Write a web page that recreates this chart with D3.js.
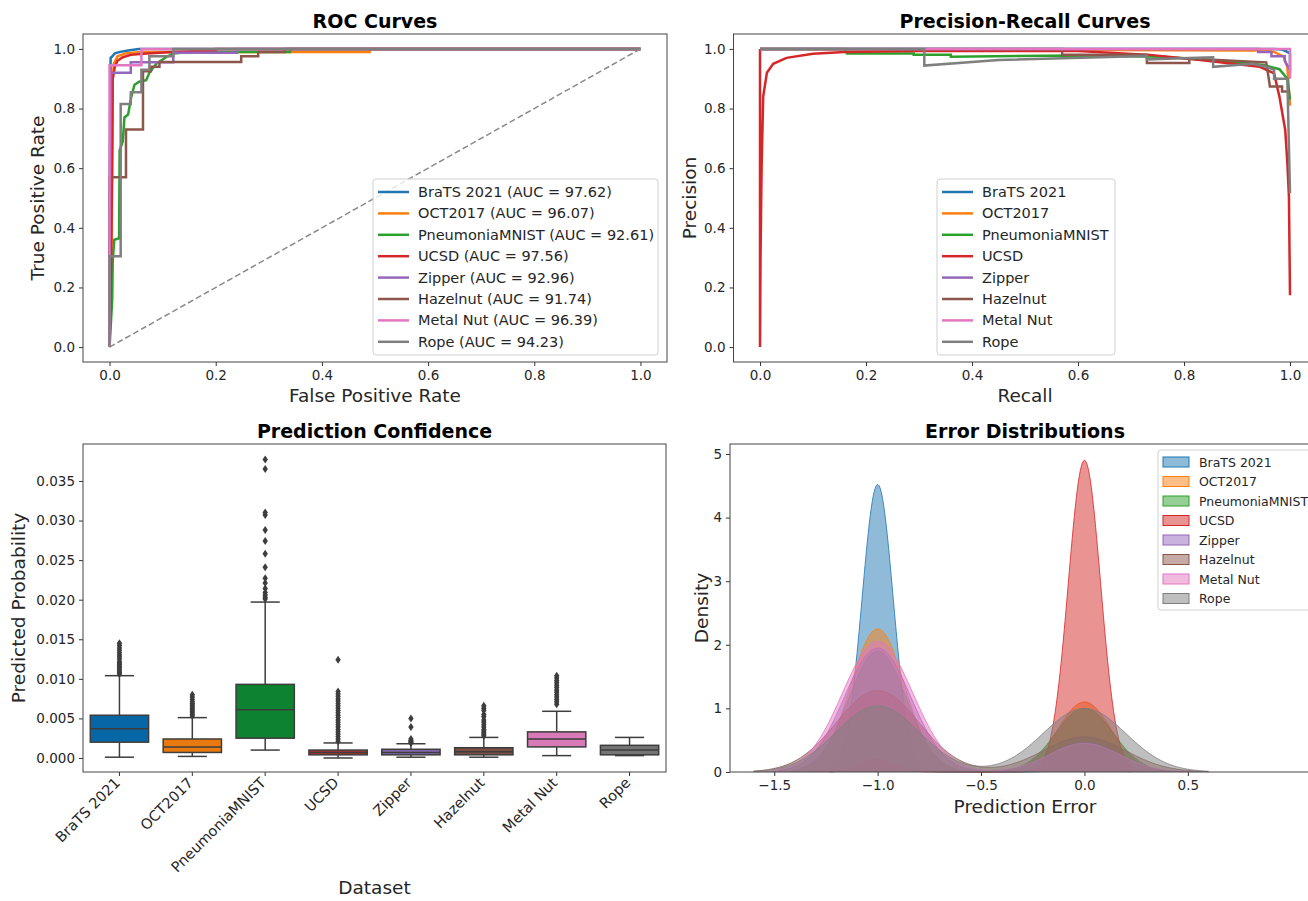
<!DOCTYPE html>
<html>
<head>
<meta charset="utf-8">
<script src="https://cdn.jsdelivr.net/npm/d3@7"></script>
<style>
body { margin: 0; background: #fff; }
text { font-family: "DejaVu Sans", sans-serif; fill: #262626; }
</style>
</head>
<body>
<div id="chart"></div>
<script>
// datasets and scores
const datasets = ['BraTS 2021', 'OCT2017', 'PneumoniaMNIST', 'UCSD', 'Zipper', 'Hazelnut', 'Metal Nut', 'Rope']
const aucValues = [97.62, 96.07, 92.61, 97.56, 92.96, 91.74, 96.39, 94.23]

// ROC points [fpr, tpr]
const rocBrats = [[0, 0], [0, 0.5], [0.002, 0.97], [0.005, 0.975], [0.01, 0.985], [0.02, 0.99], [0.035, 0.995], [0.055, 1], [1, 1]]
const rocOct = [[0, 0], [0.004, 0.37], [0.005, 0.6], [0.006, 0.9], [0.008, 0.95], [0.015, 0.975], [0.03, 0.985], [0.06, 0.99], [0.49, 0.99], [0.49, 1], [1, 1]]
const rocPneumonia = [[0, 0], [0.005, 0.16], [0.006, 0.29], [0.009, 0.36], [0.018, 0.365], [0.019, 0.66], [0.025, 0.69], [0.028, 0.77], [0.035, 0.78], [0.041, 0.84], [0.047, 0.88], [0.056, 0.89], [0.069, 0.895], [0.075, 0.92], [0.088, 0.95], [0.107, 0.973], [0.12, 0.985], [0.15, 0.99], [0.34, 0.99], [0.34, 1], [1, 1]]
const rocUcsd = [[0, 0], [0.003, 0.3], [0.005, 0.64], [0.006, 0.9], [0.01, 0.94], [0.015, 0.96], [0.025, 0.972], [0.04, 0.98], [0.07, 0.985], [0.12, 0.99], [0.2, 0.995], [0.2, 1], [1, 1]]
const rocZipper = [[0, 0], [0, 0.35], [0.003, 0.92], [0.04, 0.92], [0.04, 0.955], [0.12, 0.955], [0.12, 0.987], [0.24, 0.987], [0.24, 1], [1, 1]]
const rocHazelnut = [[0, 0], [0, 0.57], [0.031, 0.57], [0.031, 0.73], [0.063, 0.73], [0.063, 0.925], [0.078, 0.925], [0.078, 0.94], [0.094, 0.94], [0.094, 0.956], [0.248, 0.956], [0.248, 0.975], [0.28, 0.975], [0.28, 0.99], [0.33, 0.99], [0.33, 1], [1, 1]]
const rocMetalNut = [[0, 0], [0, 0.945], [0.06, 0.945], [0.06, 1], [1, 1]]
const rocRope = [[0, 0], [0, 0.305], [0.021, 0.305], [0.021, 0.815], [0.04, 0.815], [0.04, 0.855], [0.06, 0.855], [0.06, 0.93], [0.075, 0.93], [0.075, 0.975], [0.12, 0.975], [0.12, 1], [1, 1]]
const rocCurves = [rocBrats, rocOct, rocPneumonia, rocUcsd, rocZipper, rocHazelnut, rocMetalNut, rocRope]

// precision-recall points [recall, precision]
const prBrats = [[0, 1], [0.97, 1], [0.985, 0.998], [0.995, 0.99], [1, 0.985], [1, 0.92]]
const prOct = [[0, 1], [0.3, 0.998], [0.95, 0.995], [0.97, 0.99], [0.988, 0.974], [0.995, 0.94], [1, 0.81]]
const prPneumonia = [[0, 1], [0.16, 1], [0.164, 0.985], [0.29, 0.985], [0.29, 0.98], [0.36, 0.98], [0.36, 0.974], [0.6, 0.978], [0.76, 0.974], [0.893, 0.957], [0.95, 0.946], [0.98, 0.932], [0.995, 0.9], [1, 0.83]]
const prUcsd = [[0, 1], [0, 0], [0.001, 0.3], [0.003, 0.6], [0.006, 0.84], [0.013, 0.92], [0.025, 0.95], [0.05, 0.97], [0.1, 0.984], [0.16, 0.99], [0.3, 0.993], [0.6, 0.993], [0.736, 0.98], [0.83, 0.963], [0.943, 0.94], [0.97, 0.918], [0.98, 0.84], [0.991, 0.728], [0.995, 0.617], [0.998, 0.504], [1, 0.174]]
const prZipper = [[0, 1], [0.94, 1], [0.94, 0.99], [0.965, 0.99], [0.965, 0.975], [0.99, 0.975], [0.99, 0.96], [1, 0.93]]
const prHazelnut = [[0, 1], [0.57, 1], [0.57, 0.98], [0.73, 0.98], [0.73, 0.953], [0.81, 0.953], [0.81, 0.968], [0.955, 0.955], [0.96, 0.9], [0.962, 0.874], [0.985, 0.874], [0.985, 0.857], [1, 0.857]]
const prMetalNut = [[0, 1], [1, 1], [1, 0.9]]
const prRope = [[0, 1], [0.31, 1], [0.31, 0.944], [0.45, 0.963], [0.73, 0.976], [0.73, 0.965], [0.855, 0.972], [0.855, 0.94], [0.93, 0.95], [0.955, 0.94], [0.97, 0.93], [0.97, 0.9], [0.995, 0.9], [1, 0.516]]
const prCurves = [prBrats, prOct, prPneumonia, prUcsd, prZipper, prHazelnut, prMetalNut, prRope]

// box plot stats
const boxQ1 = [0.0020, 0.0007, 0.0025, 0.0004, 0.0004, 0.0004, 0.0014, 0.0004]
const boxMedian = [0.0037, 0.0014, 0.0061, 0.0007, 0.0007, 0.0008, 0.0024, 0.0010]
const boxQ3 = [0.0054, 0.0024, 0.0093, 0.0010, 0.0011, 0.0013, 0.0033, 0.0016]
const whiskerLow = [0.0001, 0.0002, 0.0010, 0.0000, 0.0001, 0.0001, 0.0003, 0.0003]
const whiskerHigh = [0.0104, 0.0051, 0.0197, 0.0019, 0.0018, 0.0026, 0.0059, 0.0026]
const outBrats = [0.0106, 0.0108, 0.011, 0.0112, 0.0114, 0.0116, 0.0118, 0.012, 0.0122, 0.0125, 0.0128, 0.013, 0.0133, 0.0136, 0.0139, 0.0142, 0.0145]
const outOct = [0.0053, 0.0055, 0.0057, 0.0059, 0.0061, 0.0063, 0.0065, 0.0067, 0.0069, 0.0071, 0.0074, 0.0077, 0.008]
const outPneumonia = [0.0201, 0.0203, 0.0206, 0.0209, 0.0214, 0.0221, 0.0227, 0.0241, 0.0258, 0.0274, 0.0288, 0.0307, 0.031, 0.0365, 0.0377]
const outUcsd = [0.0021, 0.0024, 0.0027, 0.003, 0.0033, 0.0036, 0.0039, 0.0042, 0.0045, 0.0048, 0.0051, 0.0054, 0.0057, 0.006, 0.0063, 0.0066, 0.0069, 0.0072, 0.0075, 0.0078, 0.0081, 0.0084, 0.0124]
const outZipper = [0.0019, 0.002, 0.0021, 0.0022, 0.0024, 0.0039, 0.005]
const outHazelnut = [0.0028, 0.003, 0.0032, 0.0034, 0.0036, 0.0039, 0.0042, 0.0045, 0.0048, 0.0052, 0.0055, 0.006, 0.0063, 0.0066]
const outMetalNut = [0.0068, 0.0071, 0.0074, 0.0077, 0.008, 0.0083, 0.0086, 0.0089, 0.0092, 0.0095, 0.0098, 0.0101, 0.0104]
const outRope = []
const boxOutliers = [outBrats, outOct, outPneumonia, outUcsd, outZipper, outHazelnut, outMetalNut, outRope]

// error KDE: peak height at -1, peak height at 0, bandwidth
const kdePeakMinus1 = [4.52, 2.25, 1.9, 0.2, 1.95, 1.28, 2.05, 1.04]
const kdePeakZero = [0.3, 1.1, 1.0, 4.9, 0.48, 0.55, 0.45, 1.0]
const kdeBandwidth = [0.075, 0.13, 0.14, 0.078, 0.16, 0.2, 0.17, 0.2]

// tick labels
const unitTicks = [0, 0.2, 0.4, 0.6, 0.8, 1.0]
const probTicks = [0, 0.005, 0.01, 0.015, 0.02, 0.025, 0.03, 0.035]
const errorTicks = [-1.5, -1.0, -0.5, 0.0, 0.5]
const densityTicks = [0, 1, 2, 3, 4, 5]

const lineColors = ['#1f77b4', '#ff7f0e', '#2ca02c', '#d62728', '#9467bd', '#8c564b', '#e377c2', '#7f7f7f']
const boxColors = ['#0767a6', '#e8790f', '#0d8230', '#b33232', '#8667ad', '#7b4f44', '#d87ab7', '#757575']
const edgeColor = '#3d3d3d'

var width = 1308
var height = 901

var svg = d3.select('#chart')
	.append('svg')
	.attr('width', width)
	.attr('height', height)

// draw ticks, title and labels for one panel
function panel(x, y, opts) {
	var g = svg.append('g')
	var [x0, x1] = x.range()
	var [y0, y1] = y.range() // y0 bottom, y1 top

	var xAxis = (x.bandwidth ? d3.axisBottom(x) : d3.axisBottom(x).tickValues(opts.xTicks).tickFormat(opts.xFormat))
		.tickSize(4).tickPadding(4)
	var gx = g.append('g')
		.attr('transform', 'translate(0,' + y0 + ')')
		.call(xAxis)
	gx.select('.domain').remove()

	var gy = g.append('g')
		.attr('transform', 'translate(' + x0 + ',0)')
		.call(d3.axisLeft(y).tickValues(opts.yTicks).tickFormat(opts.yFormat).tickSize(4).tickPadding(4))
	gy.select('.domain').remove()

	g.selectAll('.tick line').attr('stroke', '#333')
	g.selectAll('.tick text')
		.style('font-size', '13.5px')
		.style('font-family', '"DejaVu Sans", sans-serif')
		.attr('fill', '#262626')

	if (opts.rotate) {
		gx.selectAll('.tick text')
			.style('font-size', '14.5px')
			.attr('text-anchor', 'end')
			.attr('dy', null)
			.attr('transform', 'translate(-4,6) rotate(-45)')
			.attr('y', 8)
	}

	// title
	g.append('text')
		.attr('class', 'title')
		.attr('x', (x0 + x1) / 2)
		.attr('y', y1 - 6)
		.attr('text-anchor', 'middle')
		.style('font-size', '19px')
		.style('font-weight', 'bold')
		.style('fill', '#000')
		.text(opts.title)

	// axis labels
	g.append('text')
		.attr('x', opts.xLabelX || (x0 + x1) / 2)
		.attr('y', opts.xLabelY)
		.attr('text-anchor', 'middle')
		.style('font-size', '18.5px')
		.text(opts.xLabel)
	g.append('text')
		.attr('transform', 'translate(' + opts.yLabelX + ',' + (y0 + y1) / 2 + ') rotate(-90)')
		.attr('text-anchor', 'middle')
		.style('font-size', '18.5px')
		.text(opts.yLabel)

	return g
}

function frame(g, x, y) {
	var [x0, x1] = x.range()
	var [y0, y1] = y.range()
	g.append('rect')
		.attr('x', x0).attr('y', y1)
		.attr('width', x1 - x0).attr('height', y0 - y1)
		.attr('fill', 'none')
		.attr('stroke', '#444')
		.attr('stroke-width', 1)
}

function lineLegend(g, x, y, w, h, labels) {
	var lg = g.append('g').attr('transform', 'translate(' + x + ',' + y + ')')
	lg.append('rect')
		.attr('width', w).attr('height', h)
		.attr('rx', 3)
		.attr('fill', '#fff').attr('fill-opacity', 0.8)
		.attr('stroke', '#d0d0d0')
	labels.forEach((label, i) => {
		var cy = 13 + i * 21.4
		lg.append('line')
			.attr('x1', 5).attr('x2', 36)
			.attr('y1', cy).attr('y2', cy)
			.attr('stroke', lineColors[i])
			.attr('stroke-width', 2.5)
		lg.append('text')
			.attr('x', 45).attr('y', cy + 5)
			.style('font-size', '14.5px')
			.text(label)
	})
}

// ---------- ROC ----------
var xRoc = d3.scaleLinear([-0.05, 1.05], [83, 667])
var yRoc = d3.scaleLinear([-0.05, 1.05], [362, 34])
var gRoc = panel(xRoc, yRoc, {
	title: 'ROC Curves', xLabel: 'False Positive Rate', yLabel: 'True Positive Rate',
	xTicks: unitTicks, yTicks: unitTicks, xFormat: d3.format('.1f'), yFormat: d3.format('.1f'),
	xLabelY: 402, yLabelX: 44
})
var rocLine = d3.line().x(d => xRoc(d[0])).y(d => yRoc(d[1]))
rocCurves.forEach((pts, i) => {
	gRoc.append('path')
		.attr('d', rocLine(pts))
		.attr('fill', 'none')
		.attr('stroke', lineColors[i])
		.attr('stroke-width', 2.5)
})
gRoc.append('path')
	.attr('d', rocLine([[0, 0], [1, 1]]))
	.attr('stroke', '#8a8a8a')
	.attr('stroke-width', 1.5)
	.attr('stroke-dasharray', '6,3')
	.attr('fill', 'none')
frame(gRoc, xRoc, yRoc)
lineLegend(gRoc, 373, 179, 285, 176, datasets.map((d, i) => d + ' (AUC = ' + aucValues[i].toFixed(2) + ')'))

// ---------- Precision-Recall ----------
var xPr = d3.scaleLinear([-0.05, 1.05], [733.5, 1316.5])
var yPr = d3.scaleLinear([-0.05, 1.05], [362, 34])
var gPr = panel(xPr, yPr, {
	title: 'Precision-Recall Curves', xLabel: 'Recall', yLabel: 'Precision',
	xTicks: unitTicks, yTicks: unitTicks, xFormat: d3.format('.1f'), yFormat: d3.format('.1f'),
	xLabelY: 402, yLabelX: 696
})
var prLine = d3.line().x(d => xPr(d[0])).y(d => yPr(d[1]))
prCurves.forEach((pts, i) => {
	gPr.append('path')
		.attr('d', prLine(pts))
		.attr('fill', 'none')
		.attr('stroke', lineColors[i])
		.attr('stroke-width', 2.5)
})
frame(gPr, xPr, yPr)
lineLegend(gPr, 937, 179, 178, 176, datasets)

// ---------- Box plot ----------
var xBox = d3.scaleBand(datasets, [83, 666])
var yBox = d3.scaleLinear([-0.00177, 0.03967], [772, 444])
var gBox = panel(xBox, yBox, {
	title: 'Prediction Confidence', xLabel: 'Dataset', yLabel: 'Predicted Probability',
	yTicks: probTicks, yFormat: d3.format('.3f'), rotate: true,
	xLabelY: 894, yLabelX: 25
})
var bw = xBox.bandwidth() * 0.8
datasets.forEach((name, i) => {
	var cx = xBox(name) + xBox.bandwidth() / 2
	var bg = gBox.append('g')
	// whiskers
	bg.append('line')
		.attr('x1', cx).attr('x2', cx)
		.attr('y1', yBox(whiskerHigh[i])).attr('y2', yBox(boxQ3[i]))
		.attr('stroke', edgeColor).attr('stroke-width', 1.5)
	bg.append('line')
		.attr('x1', cx).attr('x2', cx)
		.attr('y1', yBox(boxQ1[i])).attr('y2', yBox(whiskerLow[i]))
		.attr('stroke', edgeColor).attr('stroke-width', 1.5)
	;[whiskerLow[i], whiskerHigh[i]].forEach(v => {
		bg.append('line')
			.attr('x1', cx - bw / 4).attr('x2', cx + bw / 4)
			.attr('y1', yBox(v)).attr('y2', yBox(v))
			.attr('stroke', edgeColor).attr('stroke-width', 1.5)
	})
	// box
	bg.append('rect')
		.attr('x', cx - bw / 2)
		.attr('y', yBox(boxQ3[i]))
		.attr('width', bw)
		.attr('height', yBox(boxQ1[i]) - yBox(boxQ3[i]))
		.attr('fill', boxColors[i])
		.attr('stroke', edgeColor).attr('stroke-width', 1.5)
	bg.append('line')
		.attr('x1', cx - bw / 2).attr('x2', cx + bw / 2)
		.attr('y1', yBox(boxMedian[i])).attr('y2', yBox(boxMedian[i]))
		.attr('stroke', edgeColor).attr('stroke-width', 1.5)
	// outliers
	bg.selectAll('path.flier')
		.data(boxOutliers[i])
		.enter()
		.append('path')
		.attr('class', 'flier')
		.attr('d', 'M0,-4L2.7,0L0,4L-2.7,0Z')
		.attr('transform', d => 'translate(' + cx + ',' + yBox(d) + ')')
		.attr('fill', edgeColor)
})
frame(gBox, xBox, yBox)

// ---------- Error distributions ----------
var xErr = d3.scaleLinear([-1.714, 1.11], [730, 1314])
var yErr = d3.scaleLinear([0, 5.157], [772, 444])
var gErr = panel(xErr, yErr, {
	title: 'Error Distributions', xLabel: 'Prediction Error', yLabel: 'Density',
	xTicks: errorTicks, yTicks: densityTicks, xFormat: d3.format('.1f'), yFormat: d3.format('d'),
	xLabelY: 813, xLabelX: 1025, yLabelX: 708
})
gErr.select('text.title').attr('x', 1025)
var area = d3.area().x(d => xErr(d[0])).y0(yErr(0)).y1(d => yErr(d[1]))
var edge = d3.line().x(d => xErr(d[0])).y(d => yErr(d[1]))
datasets.forEach((name, i) => {
	var h = kdeBandwidth[i]
	var lo = -1 - 3 * h, hi = 3 * h
	var pts = d3.range(0, 301).map(k => {
		var xv = lo + (hi - lo) * k / 300
		var dv = kdePeakMinus1[i] * Math.exp(-((xv + 1) ** 2) / (2 * h * h)) +
			kdePeakZero[i] * Math.exp(-(xv ** 2) / (2 * h * h))
		return [xv, dv]
	})
	gErr.append('path')
		.attr('d', area(pts))
		.attr('fill', lineColors[i])
		.attr('fill-opacity', 0.5)
	gErr.append('path')
		.attr('d', edge(pts))
		.attr('fill', 'none')
		.attr('stroke', lineColors[i])
		.attr('stroke-opacity', 0.8)
		.attr('stroke-width', 1)
})
frame(gErr, xErr, yErr)

// patch legend
var el = gErr.append('g').attr('transform', 'translate(1158,450)')
el.append('rect')
	.attr('width', 160).attr('height', 160)
	.attr('rx', 3)
	.attr('fill', '#fff').attr('fill-opacity', 0.8)
	.attr('stroke', '#d0d0d0')
datasets.forEach((name, i) => {
	var cy = 12 + i * 19.5
	el.append('rect')
		.attr('x', 5).attr('y', cy - 5)
		.attr('width', 26).attr('height', 10)
		.attr('fill', lineColors[i]).attr('fill-opacity', 0.5)
		.attr('stroke', lineColors[i])
	el.append('text')
		.attr('x', 41).attr('y', cy + 4.5)
		.style('font-size', '12.5px')
		.text(name)
})
</script>
</body>
</html>
